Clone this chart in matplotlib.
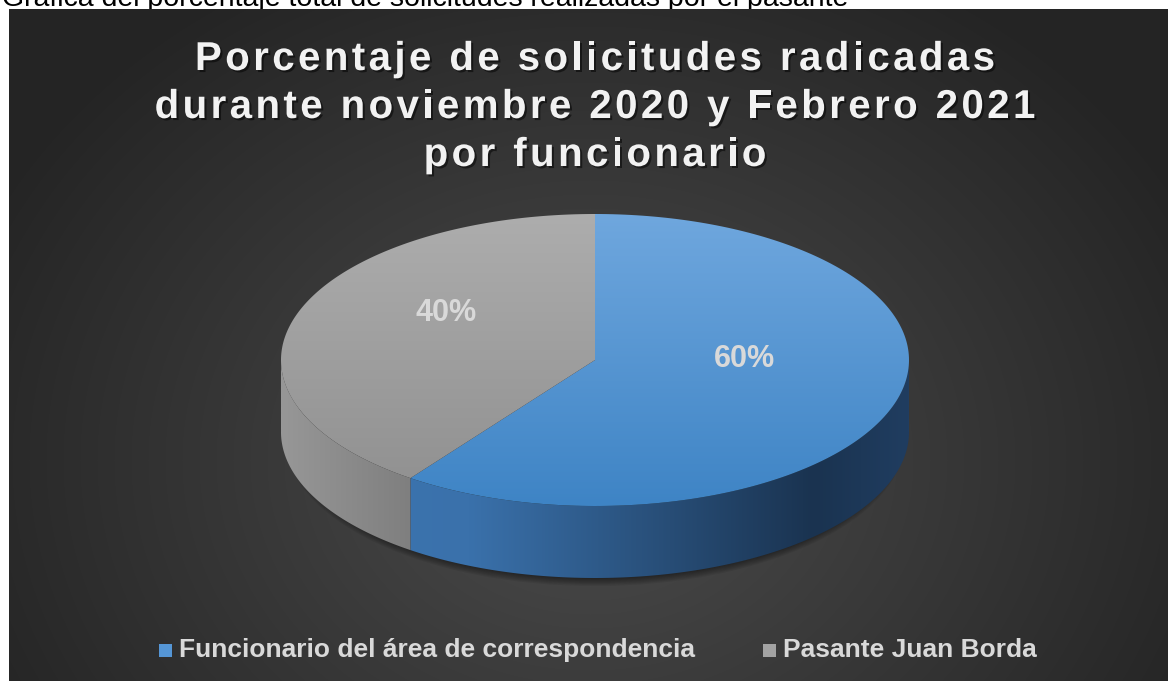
import numpy as np
import matplotlib
matplotlib.use("Agg")
import matplotlib.pyplot as plt
from matplotlib.patches import Polygon, Ellipse, Rectangle
from matplotlib import patheffects
from matplotlib.font_manager import FontProperties, findfont, get_font
from matplotlib.colors import to_rgb

# data
labels = ['Funcionario del área de correspondencia', 'Pasante Juan Borda']
values = [60, 40]
title_lines = ['Porcentaje de solicitudes radicadas',
               'durante noviembre 2020 y Febrero 2021',
               'por funcionario']
caption = 'Gráfica del porcentaje total de solicitudes realizadas por el pasante'

W, H = 1168, 681
fig = plt.figure(figsize=(W / 100, H / 100), dpi=100)
fig.patch.set_facecolor('white')
ax = fig.add_axes([0, 0, 1, 1])
ax.set_facecolor('white')

FAM = ['Liberation Sans', 'DejaVu Sans']


def gradient_img(stops, n=256):
    t = np.linspace(0, 1, n)
    pos = [s[0] for s in stops]
    cols = np.array([to_rgb(s[1]) for s in stops])
    return np.stack([np.interp(t, pos, cols[:, k]) for k in range(3)], axis=-1)


def grad_fill(verts, stops, extent, horizontal, zorder):
    poly = Polygon(verts, closed=True, facecolor='none', edgecolor='none')
    ax.add_patch(poly)
    line = gradient_img(stops)
    img = line[None, :, :] if horizontal else line[:, None, :]
    x0, x1, y0, y1 = extent
    im = ax.imshow(img, extent=(x0, x1, y1, y0), origin='upper', aspect='auto',
                   interpolation='bilinear', zorder=zorder)
    im.set_clip_path(poly)


# caption of the document, mostly hidden under the chart box
ax.text(2, 6, caption, fontsize=20.5, family=FAM, color='black',
        va='baseline', ha='left', zorder=0.5)

# dark chart area with radial gradient
bx0, by0 = 9, 9
yy, xx = np.mgrid[by0:H, bx0:W]
t = np.sqrt(((xx - 590) / 680.0) ** 2 + ((yy - 460) / 560.0) ** 2)
t = np.clip(t, 0, 1)
c0, c1 = np.array(to_rgb('#4c4c4c')), np.array(to_rgb('#242424'))
bg = c0[None, None, :] * (1 - t[..., None]) + c1[None, None, :] * t[..., None]
ax.imshow(bg, extent=(bx0, W, H, by0), origin='upper', aspect='auto', zorder=1)

# 3d pie geometry
cx, cy, a, b, depth = 595, 360, 314, 146, 72


def arc(th0, th1, dy=0, n=200):
    th = np.radians(np.linspace(th0, th1, n))
    return np.column_stack([cx + a * np.cos(th), cy - b * np.sin(th) + dy])


fracs = np.array(values, dtype=float) / sum(values)
edges = 90 - 360 * np.concatenate([[0], np.cumsum(fracs)])

top_stops = [[(0, '#6fa7de'), (1, '#3e84c5')],
             [(0, '#adadad'), (1, '#8f8f8f')]]
side_stops = [[(0, '#3d76b2'), (0.3, '#3a71ab'), (0.85, '#1a3350'), (1, '#203d60')],
              [(0, '#979797'), (0.35, '#6e6e6e'), (1, '#6e6e6e')]]
legend_cols = ['#5596d6', '#a3a3a3']
label_col = '#d9d9d9'

# soft shadow beneath the pie
for k in range(8):
    ax.add_patch(Ellipse((cx, cy + depth + 6), 2 * (a - 4 - k * 1.5),
                         2 * (b + 2 - k * 1.2), facecolor='black',
                         edgecolor='none', alpha=0.07, zorder=2))

ext_top = (cx - a, cx + a, cy - b, cy + b)
ext_side = (cx - a, cx + a, cy - b, cy + b + depth)

# side walls (front half only)
for i in range(len(values)):
    hi, lo = edges[i], edges[i + 1]
    for k in (-1, 0, 1):
        v0, v1 = -180 + 360 * k, 0 + 360 * k
        s0, s1 = max(lo, v0), min(hi, v1)
        if s1 <= s0:
            continue
        verts = np.vstack([arc(s0, s1), arc(s1, s0, dy=depth)])
        grad_fill(verts, side_stops[i], ext_side, True, 3)

# top faces
for i in range(len(values)):
    hi, lo = edges[i], edges[i + 1]
    verts = np.vstack([[cx, cy], arc(hi, lo)])
    grad_fill(verts, top_stops[i], ext_top, False, 4)

# data labels
for i, v in enumerate(values):
    mid = np.radians((edges[i] + edges[i + 1]) / 2)
    lx = cx + 0.5 * a * np.cos(mid)
    ly = cy - 0.5 * b * np.sin(mid) - 24
    ax.text(lx, ly, f'{v}%', fontsize=22, fontweight='bold', family=FAM,
            color=label_col, ha='center', va='center', zorder=6)

# title with letter spacing
tprop = FontProperties(family='Liberation Sans', weight='bold', size=29)
tfont = get_font(findfont(tprop))
shadow = [patheffects.withSimplePatchShadow(offset=(1.5, -1.5),
                                            shadow_rgbFace='black', alpha=0.5)]


def spaced_text(s, xc, y, spacing):
    tfont.set_size(29, 100)
    adv = [tfont.load_char(ord(c)).linearHoriAdvance / 65536.0 for c in s]
    total = sum(adv) + spacing * (len(s) - 1)
    x = xc - total / 2
    for c, w in zip(s, adv):
        if c != ' ':
            ax.text(x, y, c, fontproperties=tprop, color='#f2f2f2',
                    ha='left', va='baseline', zorder=7, path_effects=shadow)
        x += w + spacing


for line, base in zip(title_lines, [70, 118, 166]):
    spaced_text(line, 595, base, 3.4)

# legend
leg_x = [159, 763]
for i, lab in enumerate(labels):
    ax.add_patch(Rectangle((leg_x[i], 644), 13, 13, facecolor=legend_cols[i],
                           edgecolor='none', zorder=6))
    ax.text(leg_x[i] + 20, 657, lab, fontsize=19, fontweight='bold', family=FAM,
            color=label_col, ha='left', va='baseline', zorder=6)

ax.set_xlim(0, W)
ax.set_ylim(H, 0)
ax.axis('off')

fig.savefig('out.png', dpi=100, facecolor='white')
